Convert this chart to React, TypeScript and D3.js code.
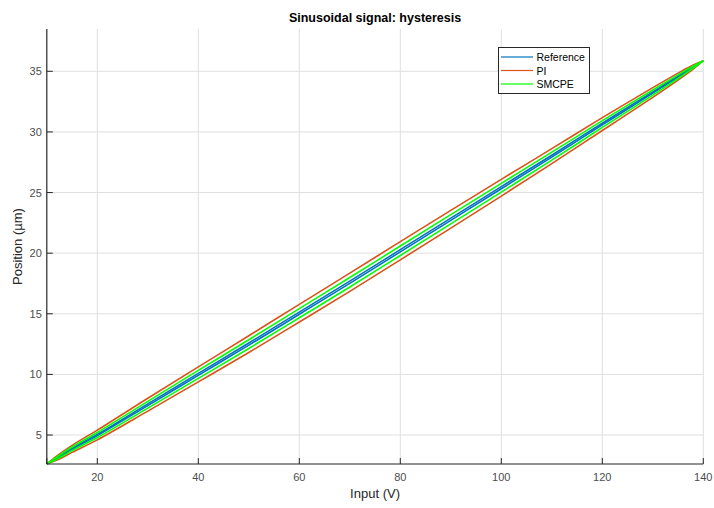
import React from "react";
import * as d3 from "d3";

const inputV = [10, 12, 15, 20, 30, 40, 50, 60, 70, 80, 90, 100, 110, 120, 130, 135, 138, 140];
const centerPos = [2.61, 3.1, 3.86, 5.0, 7.5, 10.0, 12.5, 15.05, 17.6, 20.2, 22.8, 25.4, 28.0, 30.65, 33.25, 34.56, 35.35, 35.87];
const piHalf = [0, 0.17, 0.29, 0.4, 0.53, 0.62, 0.69, 0.73, 0.75, 0.75, 0.73, 0.69, 0.62, 0.53, 0.4, 0.29, 0.17, 0];
const smcpeHalf = [0, 0.09, 0.15, 0.21, 0.28, 0.33, 0.36, 0.38, 0.39, 0.39, 0.38, 0.36, 0.33, 0.28, 0.21, 0.15, 0.09, 0];
const refHalf = [0, 0.02, 0.04, 0.05, 0.07, 0.08, 0.09, 0.09, 0.09, 0.09, 0.09, 0.09, 0.08, 0.07, 0.05, 0.04, 0.02, 0];

const xTicks = [20, 40, 60, 80, 100, 120, 140];
const yTicks = [5, 10, 15, 20, 25, 30, 35];

const seriesNames = ["Reference", "PI", "SMCPE"];
const seriesColors = ["#0072BD", "#D95319", "#00FF00"];
const seriesHalf = [refHalf, piHalf, smcpeHalf];

const W = 714;
const H = 508;
const L = 46.8;
const R = 703.3;
const T = 29;
const B = 464;

export default function App() {
  const x = d3.scaleLinear().domain([10, 140]).range([L, R]);
  const y = d3.scaleLinear().domain([2.61, 38.49]).range([B, T]);
  const line = d3
    .line<[number, number]>()
    .x((d) => x(d[0]))
    .y((d) => y(d[1]))
    .curve(d3.curveCatmullRom.alpha(0.5));

  const font = "Helvetica, Arial, 'Liberation Sans', sans-serif";
  const drawOrder = [0, 1, 2];

  return (
    <svg
      width={W}
      height={H}
      style={{ position: "absolute", left: 0, top: 0, background: "#fff" }}
      fontFamily={font}
    >
      <rect x={0} y={0} width={W} height={H} fill="#fff" />
      {xTicks.map((t) => (
        <line key={"gx" + t} x1={x(t)} x2={x(t)} y1={T} y2={B} stroke="#dfdfdf" strokeWidth={1} />
      ))}
      {yTicks.map((t) => (
        <line key={"gy" + t} x1={L} x2={R} y1={y(t)} y2={y(t)} stroke="#dfdfdf" strokeWidth={1} />
      ))}
      {drawOrder.map((si) => {
        const half = seriesHalf[si];
        const lower = inputV.map((v, i) => [v, centerPos[i] - half[i]] as [number, number]);
        const upper = inputV.map((v, i) => [v, centerPos[i] + half[i]] as [number, number]);
        return (
          <g key={"s" + si}>
            <path d={line(lower) || ""} fill="none" stroke={seriesColors[si]} strokeWidth={1.6} />
            <path d={line(upper) || ""} fill="none" stroke={seriesColors[si]} strokeWidth={1.6} />
          </g>
        );
      })}
      <line x1={L} x2={R} y1={B} y2={B} stroke="#262626" strokeWidth={1.2} />
      <line x1={L} x2={L} y1={T} y2={B} stroke="#262626" strokeWidth={1.2} />
      {[10, ...xTicks].map((t) => (
        <line key={"tx" + t} x1={x(t)} x2={x(t)} y1={B} y2={B - 6} stroke="#262626" strokeWidth={1} />
      ))}
      {yTicks.map((t) => (
        <line key={"ty" + t} x1={L} x2={L + 6} y1={y(t)} y2={y(t)} stroke="#262626" strokeWidth={1} />
      ))}
      {xTicks.map((t) => (
        <text key={"lx" + t} x={x(t)} y={B + 17} fontSize={11} fill="#4d4d4d" textAnchor="middle">
          {t}
        </text>
      ))}
      {yTicks.map((t) => (
        <text key={"ly" + t} x={L - 5} y={y(t) + 4} fontSize={11} fill="#4d4d4d" textAnchor="end">
          {t}
        </text>
      ))}
      <text x={(L + R) / 2} y={498} fontSize={13} fill="#262626" textAnchor="middle">
        Input (V)
      </text>
      <text
        transform={`translate(22,${(T + B) / 2}) rotate(-90)`}
        fontSize={13}
        fill="#262626"
        textAnchor="middle"
      >
        Position (µm)
      </text>
      <text x={(L + R) / 2} y={22} fontSize={12.5} fontWeight="bold" fill="#000" textAnchor="middle">
        Sinusoidal signal: hysteresis
      </text>
      <rect x={498.5} y={47.5} width={91} height={46} fill="#fff" stroke="#262626" strokeWidth={1} />
      {seriesNames.map((n, i) => (
        <g key={"lg" + n}>
          <line
            x1={501}
            x2={533}
            y1={57 + i * 13.5}
            y2={57 + i * 13.5}
            stroke={seriesColors[i]}
            strokeWidth={1.2}
          />
          <text x={536.5} y={57 + i * 13.5 + 4} fontSize={10.5} fill="#000">
            {n}
          </text>
        </g>
      ))}
    </svg>
  );
}
